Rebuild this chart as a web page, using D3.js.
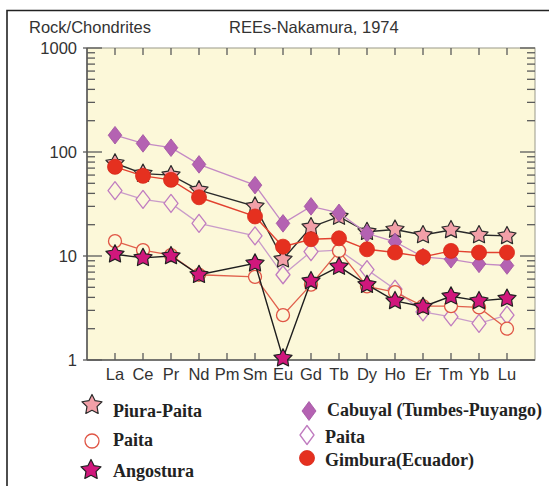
<!DOCTYPE html>
<html><head><meta charset="utf-8">
<script src="https://cdn.jsdelivr.net/npm/d3@7"></script>
<style>body{margin:0;background:#fff}</style>
</head><body><svg id="c" width="549" height="486"></svg>
<script>
// ---- data ----
const elements = ["La","Ce","Pr","Nd","Pm","Sm","Eu","Gd","Tb","Dy","Ho","Er","Tm","Yb","Lu"];
const piuraPaita   = [78, 62, 60, 43, null, 30, 9.3, 19, 23.9, 17.1, 18, 15.9, 17.8, 15.9, 15.6];
const paitaCircle  = [13.9, 11.4, 10.2, 6.6, null, 6.3, 2.7, 5.3, 11.2, 5.1, 4.5, 3.3, 3.3, 3.2, 2.0];
const angostura    = [10.4, 9.6, 10, 6.6, null, 8.5, 1.04, 5.75, 7.9, 5.3, 3.7, 3.25, 4.1, 3.7, 3.9];
const cabuyal      = [145, 121, 110, 76, null, 48, 20.6, 30, 26, 16.5, 13.7, 9.8, 9.3, 8.4, 8.1];
const paitaDiamond = [42.5, 35, 32, 20.6, null, 15.6, 6.6, 11.0, 11.4, 7.4, 4.8, 2.9, 2.6, 2.25, 2.7];
const gimbura      = [72, 59, 54, 36.7, null, 24, 12.3, 14.5, 14.8, 11.6, 10.8, 9.8, 11.2, 10.8, 10.8];
const yTickLabels  = [1, 10, 100, 1000];
const legendNames  = ["Piura-Paita","Paita","Angostura","Cabuyal (Tumbes-Puyango)","Paita","Gimbura(Ecuador)"];

const svg = d3.select("#c");
const L = 87, R = 535, T = 48, B = 360;
const bg = "#fcf8d9";

const x = d3.scalePoint().domain(elements).range([L, R]).padding(1);
const y = d3.scaleLog().domain([1, 1000]).range([B, T]);

// outer frame
svg.append("path").attr("d", "M7,486 L7,10.5 L549,10.5")
  .attr("fill", "none").attr("stroke", "#222").attr("stroke-width", 1.6);

// plot background
svg.append("rect").attr("x", L).attr("y", T).attr("width", R - L).attr("height", B - T)
  .attr("fill", bg).attr("stroke", "#9a9a8a").attr("stroke-width", 1);

const axisColor = "#5a5a5a";
// left axis (ticks inside)
const majors = yTickLabels;
const allTicks = y.ticks();
const yl = svg.append("g").attr("transform", `translate(${L},0)`);
yl.selectAll("line.t").data(allTicks).join("line")
  .attr("x1", d => majors.includes(d) ? -4 : 0)
  .attr("x2", d => majors.includes(d) ? 15 : 8)
  .attr("y1", d => y(d)).attr("y2", d => y(d))
  .attr("stroke", axisColor).attr("stroke-width", 1.3);
yl.append("line").attr("x1", 0).attr("x2", 0).attr("y1", T).attr("y2", B)
  .attr("stroke", axisColor).attr("stroke-width", 1.6);
yl.selectAll("text").data(majors).join("text")
  .attr("x", -10).attr("y", d => y(d)).attr("dy", "0.36em")
  .attr("text-anchor", "end").attr("font-family", "Liberation Sans, Arial, sans-serif")
  .attr("font-size", 16.5).attr("fill", "#333").text(d => d);

// right axis
const yr = svg.append("g").attr("transform", `translate(${R},0)`);
yr.selectAll("line").data(allTicks).join("line")
  .attr("x1", d => majors.includes(d) ? -15 : -8).attr("x2", 0)
  .attr("y1", d => y(d)).attr("y2", d => y(d))
  .attr("stroke", axisColor).attr("stroke-width", 1.3);

// bottom & top ticks
const xb = svg.append("g");
xb.selectAll("line.b").data(elements).join("line").attr("class", "b")
  .attr("x1", d => x(d)).attr("x2", d => x(d)).attr("y1", B).attr("y2", B - 7)
  .attr("stroke", axisColor).attr("stroke-width", 1.3);
xb.selectAll("line.tp").data(elements).join("line").attr("class", "tp")
  .attr("x1", d => x(d)).attr("x2", d => x(d)).attr("y1", T).attr("y2", T + 7)
  .attr("stroke", axisColor).attr("stroke-width", 1.3);
xb.append("line").attr("x1", L).attr("x2", R).attr("y1", B).attr("y2", B)
  .attr("stroke", axisColor).attr("stroke-width", 1.6);
xb.selectAll("text").data(elements).join("text")
  .attr("x", d => x(d)).attr("y", B + 20).attr("text-anchor", "middle")
  .attr("font-family", "Liberation Sans, Arial, sans-serif").attr("font-size", 16.5)
  .attr("fill", "#333").text(d => d);

// titles
svg.append("text").attr("x", 29).attr("y", 33).attr("font-family", "Liberation Sans, Arial, sans-serif")
  .attr("font-size", 16.5).attr("fill", "#333").text("Rock/Chondrites");
svg.append("text").attr("x", 229).attr("y", 33).attr("font-family", "Liberation Sans, Arial, sans-serif")
  .attr("font-size", 16.5).attr("fill", "#333").text("REEs-Nakamura, 1974");

// marker shapes
function starPath(Ro, Ri) {
  const pts = [];
  for (let i = 0; i < 10; i++) {
    const a = -Math.PI / 2 + i * Math.PI / 5;
    const r = i % 2 ? Ri : Ro;
    pts.push([r * Math.cos(a), r * Math.sin(a)]);
  }
  return "M" + pts.map(p => p[0].toFixed(2) + "," + p[1].toFixed(2)).join("L") + "Z";
}
function diamondPath(w, h) { return `M0,${-h}L${w},0L0,${h}L${-w},0Z`; }
function circlePath(r) { return `M${r},0A${r},${r} 0 1,1 ${-r},0A${r},${r} 0 1,1 ${r},0Z`; }

const series = [
  {vals: paitaDiamond, line: "#c99cc9", lw: 1.3, shape: diamondPath(7, 9), fill: bg, stroke: "#c07cc0", sw: 1.3},
  {vals: piuraPaita, line: "#2a2a2a", lw: 1.4, shape: starPath(9.5, 4.9), fill: "#f2a0a8", stroke: "#2a2a2a", sw: 1.2},
  {vals: cabuyal, line: "#c48ac4", lw: 1.3, shape: diamondPath(6.8, 8.8), fill: "#b462b2", stroke: "#a050a0", sw: 0.8},
  {vals: paitaCircle, line: "#e0604c", lw: 1.3, shape: circlePath(6.5), fill: bg, stroke: "#e05545", sw: 1.3},
  {vals: angostura, line: "#1e1e1e", lw: 1.4, shape: starPath(9.5, 4.9), fill: "#d0177c", stroke: "#222", sw: 1.2},
  {vals: gimbura, line: "#e2412f", lw: 1.4, shape: circlePath(7.5), fill: "#e5301f", stroke: "#d8291a", sw: 0.8}
];

const line = d3.line().x(d => x(d.k)).y(d => y(d.v));
const plot = svg.append("g");
series.forEach(s => {
  const pts = elements.map((k, i) => ({k, v: s.vals[i]})).filter(d => d.v != null);
  const g = plot.append("g");
  g.append("path").attr("d", line(pts)).attr("fill", "none")
    .attr("stroke", s.line).attr("stroke-width", s.lw);
  g.selectAll("path.m").data(pts).join("path").attr("class", "m")
    .attr("d", s.shape).attr("transform", d => `translate(${x(d.k)},${y(d.v)})`)
    .attr("fill", s.fill).attr("stroke", s.stroke).attr("stroke-width", s.sw)
    .attr("stroke-linejoin", "round");
});

// legend
const legendItems = [
  {name: legendNames[0], s: series[1], mx: 92, my: 405, tx: 113, ty: 417, shape: starPath(10.5, 5.3)},
  {name: legendNames[1], s: series[3], mx: 92, my: 441, tx: 113, ty: 446, shape: circlePath(7)},
  {name: legendNames[2], s: series[4], mx: 91, my: 470, tx: 113, ty: 477, shape: starPath(10.5, 5.3)},
  {name: legendNames[3], s: series[2], mx: 309, my: 411, tx: 327, ty: 416, shape: diamondPath(7, 9.5)},
  {name: legendNames[4], s: series[0], mx: 307, my: 435, tx: 325, ty: 443, shape: diamondPath(7, 9.5)},
  {name: legendNames[5], s: series[5], mx: 307, my: 458, tx: 325, ty: 466, shape: circlePath(7.5)}
];
const lg = svg.append("g");
legendItems.forEach(it => {
  lg.append("path").attr("d", it.shape).attr("transform", `translate(${it.mx},${it.my})`)
    .attr("fill", it.s.fill === bg ? "#fff" : it.s.fill).attr("stroke", it.s.stroke)
    .attr("stroke-width", it.s.sw).attr("stroke-linejoin", "round");
  lg.append("text").attr("x", it.tx).attr("y", it.ty)
    .attr("font-family", "Liberation Serif, Times New Roman, serif").attr("font-weight", "bold")
    .attr("font-size", 18).attr("fill", "#222").text(it.name);
});
</script></body></html>
